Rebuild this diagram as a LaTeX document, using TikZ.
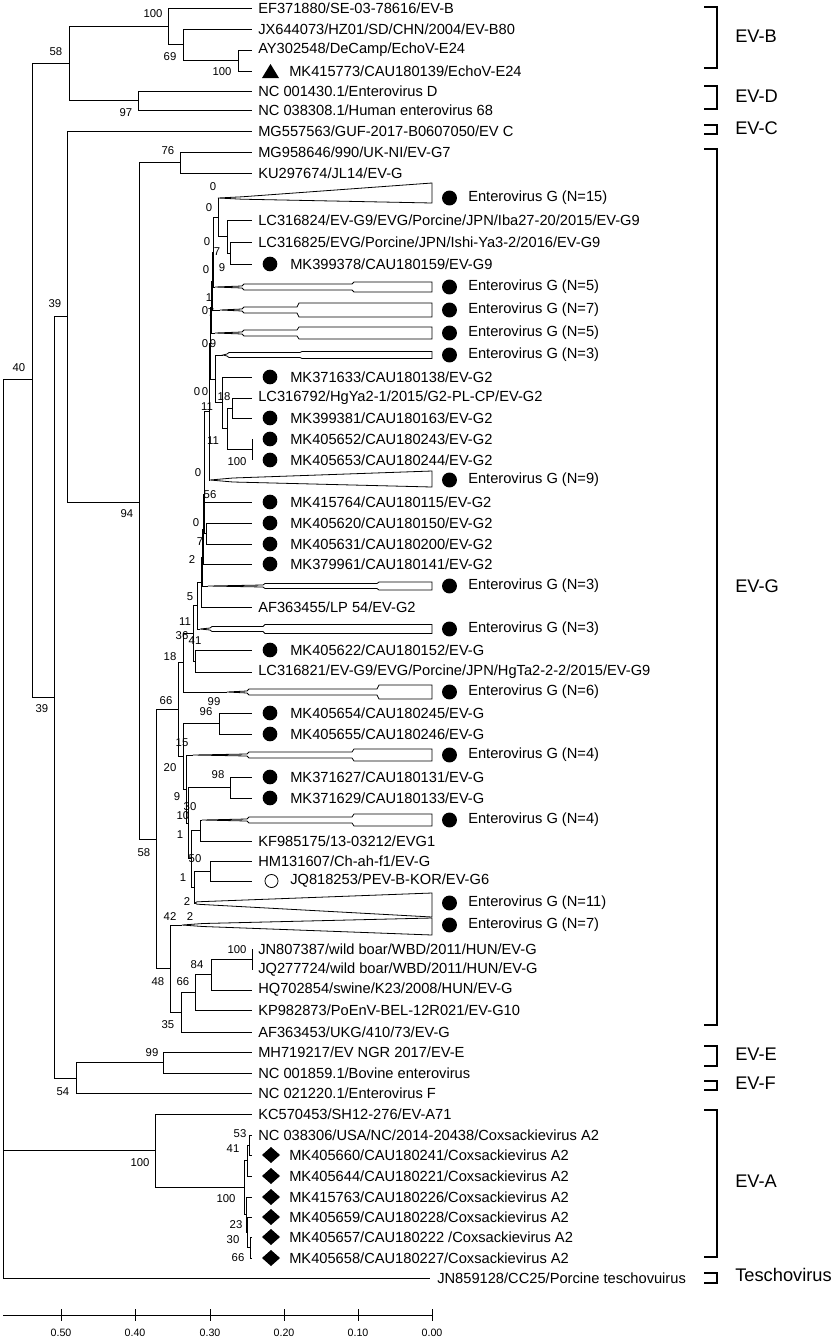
\documentclass[tikz,border=0pt]{standalone}
\usepackage{fontspec}
\setmainfont{Liberation Sans}
\newcounter{bsc}
\newcommand\LfPlain[3]{\coordinate (#1) at (252,#2); \node[leaf] (#1t) at (258,#2) {#3};}
\newcommand\LfDot[3]{\coordinate (#1) at (252,#2); \fill (270,#2) circle[radius=5.5pt]; \node[leaf] (#1t) at (290,#2) {#3};}
\newcommand\LfOpen[3]{\coordinate (#1) at (252,#2); \draw[line width=0.6pt] (271.5,#2) circle[radius=4.9pt]; \node[leaf] (#1t) at (290,#2) {#3};}
\newcommand\LfDia[3]{\coordinate (#1) at (252,#2); \fill (262,#2) -- (271,#2-8) -- (280,#2) -- (271,#2+8) -- cycle; \node[leaf] (#1t) at (289,#2) {#3};}
\newcommand\LfTri[3]{\coordinate (#1) at (252,#2); \fill (262,#2+7) -- (279,#2+7) -- (270.5,#2-7) -- cycle; \node[leaf] (#1t) at (289,#2) {#3};}
\newcommand\CladeStair[8]{%
 \coordinate (#1) at (#3,#2);
 \draw[clade] (#1) -- (#4,#2-1) -- (#4+2,#2-#5) -- (#6,#2-#5) -- (#6+2,#2-#7) -- (432,#2-#7) -- (432,#2+#7) -- (#6+2,#2+#7) -- (#6,#2+#5) -- (#4+2,#2+#5) -- (#4,#2+1) -- cycle;
 \fill (449.5,#2) circle[radius=5.6pt];
 \node[leaf] (#1t) at (468,#2) {Enterovirus G (N=#8)};}
\newcommand\CladeTri[8]{%
 \coordinate (#1) at (#3,#2);
 \draw[clade] (#1) -- (#4,#2-#5) -- (432,#2-#6) -- (432,#2+#7) -- (#4,#2+#5) -- cycle;
 \fill (449.5,#2) circle[radius=5.6pt];
 \node[leaf] (#1t) at (468,#2) {Enterovirus G (N=#8)};}
\newcommand\Bs[3]{\stepcounter{bsc}\node[bs] (bs\arabic{bsc}) at (#1,#2) {#3};}
\newcommand\Brk[4]{\draw[brk] (704,#2) -- (717,#2) -- (717,#3) -- (704,#3); \node[cl] (#1) at (735,#4) {\strut #1};}
\begin{document}
\begin{tikzpicture}[x=0.75pt,y=-0.75pt,
  br/.style={line width=0.75pt},
  clade/.style={line width=0.6pt, line join=miter},
  brk/.style={line width=1.3pt},
  leaf/.style={anchor=west, inner sep=0pt, font=\fontsize{11}{13}\selectfont},
  bs/.style={inner sep=0pt, font=\fontsize{8.5}{10}\selectfont},
  cl/.style={anchor=west, inner sep=0pt, font=\fontsize{13.7}{16}\selectfont},
  ax/.style={inner sep=0pt, font=\fontsize{8}{10}\selectfont}]
\useasboundingbox (0,0) rectangle (835,1339);
\fill[white] (0,0) rectangle (835,1339);

% ---------- leaves ----------
\LfPlain{L1}{8}{EF371880/SE-03-78616/EV-B}
\LfPlain{L2}{29}{JX644073/HZ01/SD/CHN/2004/EV-B80}
\LfPlain{L3}{50}{AY302548/DeCamp/EchoV-E24}
\LfTri{L4}{71}{MK415773/CAU180139/EchoV-E24}
\LfPlain{L5}{91}{NC 001430.1/Enterovirus D}
\LfPlain{L6}{110}{NC 038308.1/Human enterovirus 68}
\LfPlain{L7}{131}{MG557563/GUF-2017-B0607050/EV C}
\LfPlain{L8}{152}{MG958646/990/UK-NI/EV-G7}
\LfPlain{L9}{173}{KU297674/JL14/EV-G}
\CladeTri{T10}{198}{218}{242}{1.2}{15}{5}{15}
\LfPlain{L11}{220}{LC316824/EV-G9/EVG/Porcine/JPN/Iba27-20/2015/EV-G9}
\LfPlain{L12}{242}{LC316825/EVG/Porcine/JPN/Ishi-Ya3-2/2016/EV-G9}
\LfDot{L13}{264}{MK399378/CAU180159/EV-G9}
\CladeStair{T14}{287}{215}{242}{3}{352}{5}{5}
\CladeStair{T15}{310}{220}{242}{3}{297}{7}{7}
\CladeStair{T16}{333}{215}{242}{3}{297}{6}{5}
\CladeStair{T17}{355}{223}{227}{2.5}{300}{3.5}{3}
\LfDot{L18}{377}{MK371633/CAU180138/EV-G2}
\LfPlain{L19}{398}{LC316792/HgYa2-1/2015/G2-PL-CP/EV-G2}
\LfDot{L20}{418}{MK399381/CAU180163/EV-G2}
\LfDot{L21}{439}{MK405652/CAU180243/EV-G2}
\LfDot{L22}{460}{MK405653/CAU180244/EV-G2}
\CladeTri{T23}{480}{210}{233}{2}{9}{7}{9}
\LfDot{L24}{502}{MK415764/CAU180115/EV-G2}
\LfDot{L25}{523}{MK405620/CAU180150/EV-G2}
\LfDot{L26}{544}{MK405631/CAU180200/EV-G2}
\LfDot{L27}{564}{MK379961/CAU180141/EV-G2}
\CladeStair{T28}{586}{208}{263}{2.5}{377}{4}{3}
\LfPlain{L29}{607}{AF363455/LP 54/EV-G2}
\CladeStair{T30}{629}{200}{210}{2.5}{263}{4.5}{3}
\LfDot{L31}{650}{MK405622/CAU180152/EV-G}
\LfPlain{L32}{672}{LC316821/EV-G9/EVG/Porcine/JPN/HgTa2-2-2/2015/EV-G9}
\CladeStair{T33}{692}{227}{247}{3}{377}{7}{6}
\LfDot{L34}{713}{MK405654/CAU180245/EV-G}
\LfDot{L35}{734}{MK405655/CAU180246/EV-G}
\CladeStair{T36}{755}{193}{247}{3}{352}{6}{4}
\LfDot{L37}{777}{MK371627/CAU180131/EV-G}
\LfDot{L38}{798}{MK371629/CAU180133/EV-G}
\CladeStair{T39}{820}{202}{247}{3}{352}{6}{4}
\LfPlain{L40}{841}{KF985175/13-03212/EVG1}
\LfPlain{L41}{861}{HM131607/Ch-ah-f1/EV-G}
\LfOpen{L42}{881}{JQ818253/PEV-B-KOR/EV-G6}
\CladeTri{T43}{903}{195}{197}{1.2}{10}{14}{11}
\CladeTri{T44}{925}{182}{203}{1.5}{7}{10}{7}
\LfPlain{L45}{949}{JN807387/wild boar/WBD/2011/HUN/EV-G}
\LfPlain{L46}{970}{JQ277724/wild boar/WBD/2011/HUN/EV-G}
\LfPlain{L47}{990}{HQ702854/swine/K23/2008/HUN/EV-G}
\LfPlain{L48}{1010}{KP982873/PoEnV-BEL-12R021/EV-G10}
\LfPlain{L49}{1032}{AF363453/UKG/410/73/EV-G}
\LfPlain{L50}{1052}{MH719217/EV NGR 2017/EV-E}
\LfPlain{L51}{1073}{NC 001859.1/Bovine enterovirus}
\LfPlain{L52}{1093}{NC 021220.1/Enterovirus F}
\LfPlain{L53}{1114}{KC570453/SH12-276/EV-A71}
\LfPlain{L54}{1135}{NC 038306/USA/NC/2014-20438/Coxsackievirus A2}
\LfDia{L55}{1155}{MK405660/CAU180241/Coxsackievirus A2}
\LfDia{L56}{1176}{MK405644/CAU180221/Coxsackievirus A2}
\LfDia{L57}{1197}{MK415763/CAU180226/Coxsackievirus A2}
\LfDia{L58}{1217}{MK405659/CAU180228/Coxsackievirus A2}
\LfDia{L59}{1237}{MK405657/CAU180222 /Coxsackievirus A2}
\LfDia{L60}{1258}{MK405658/CAU180227/Coxsackievirus A2}
\coordinate (L61) at (430,1278);
\node[leaf] (L61t) at (437,1278) {JN859128/CC25/Porcine teschovuirus};

% ---------- internal nodes ----------
\coordinate (root) at (3,379.5);
\coordinate (n40) at (32,379.5);
\coordinate (n58t) at (69,63);
\coordinate (B1) at (168,26.4);
\coordinate (B2) at (183,44.75);
\coordinate (B3) at (238,60.5);
\coordinate (Dn) at (138,100.5);
\coordinate (n39l) at (54,697);
\coordinate (n39u) at (67,316);
\coordinate (n94) at (139,502);
\coordinate (n76) at (180,162.5);
\coordinate (n58) at (156,839);
\coordinate (E1) at (178,709.5);
\coordinate (B9) at (183,662.7);
\coordinate (U8) at (193,633.3);
\coordinate (C1) at (195,661);
\coordinate (U7) at (197,605.7);
\coordinate (U6) at (201,582.4);
\coordinate (U5) at (202,557.7);
\coordinate (U4) at (203,529.4);
\coordinate (U3) at (204,494.9);
\coordinate (U2) at (204.5,456.75);
\coordinate (Bg) at (206,533);
\coordinate (A6) at (209,411.5);
\coordinate (A5) at (210,343);
\coordinate (A4) at (211,307);
\coordinate (A3) at (212,281);
\coordinate (A2) at (213,252);
\coordinate (A1) at (218,217.25);
\coordinate (g9) at (227,236.5);
\coordinate (g9b) at (230,253);
\coordinate (g2e) at (215,379);
\coordinate (g2d) at (222,402.9);
\coordinate (g2c) at (227,428.75);
\coordinate (g2a) at (232,408);
\coordinate (g2b) at (252,449.5);
\coordinate (D9) at (183,756.3);
\coordinate (D1) at (219,723.5);
\coordinate (X) at (186,789);
\coordinate (D7) at (188,823.1);
\coordinate (D2) at (230,787.5);
\coordinate (D6) at (191,858.75);
\coordinate (D4) at (200,830.5);
\coordinate (D5) at (194,887);
\coordinate (D3) at (210,871);
\coordinate (n48) at (170,968.6);
\coordinate (n35) at (181,1012.2);
\coordinate (n66b) at (195,992.4);
\coordinate (n84) at (211,974.75);
\coordinate (n100b) at (252,959.5);
\coordinate (nEF) at (76,1078);
\coordinate (nE) at (163,1062.5);
\coordinate (nA) at (155,1150.5);
\coordinate (a7) at (244,1187);
\coordinate (a2) at (247,1160);
\coordinate (a1) at (249,1145);
\coordinate (a6) at (246,1214);
\coordinate (a5) at (247,1232);
\coordinate (a4) at (250,1247.5);

% ---------- branches ----------
\foreach \p/\c in {root/n40, root/nA, root/L61,
  n40/n58t, n40/n39l, n58t/B1, n58t/Dn, B1/L1, B1/B2, B2/L2, B2/B3, B3/L3, B3/L4, Dn/L5, Dn/L6,
  n39l/n39u, n39l/nEF, n39u/L7, n39u/n94, n94/n76, n94/n58, n76/L8, n76/L9,
  n58/E1, n58/n48, E1/B9, E1/D9, B9/U8, B9/T33, U8/U7, U8/C1, C1/L31, C1/L32,
  U7/U6, U7/T30, U6/U5, U6/L29, U5/U4, U5/T28, U4/U3, U4/L27, U3/U2, U3/Bg, Bg/L25, Bg/L26,
  U2/A6, U2/L24, A6/A5, A6/T23, A5/A4, A5/g2e, A4/A3, A4/T16, A3/A2, A3/T15, A2/A1, A2/T14,
  A1/T10, A1/g9, g9/L11, g9/g9b, g9b/L12, g9b/L13,
  g2e/T17, g2e/g2d, g2d/L18, g2d/g2c, g2c/g2a, g2c/g2b, g2a/L19, g2a/L20, g2b/L21, g2b/L22,
  D9/D1, D9/X, D1/L34, D1/L35, X/T36, X/D7, D7/D2, D7/D6, D2/L37, D2/L38,
  D6/D4, D6/D5, D4/T39, D4/L40, D5/D3, D5/T43, D3/L41, D3/L42,
  n48/T44, n48/n35, n35/n66b, n35/L49, n66b/n84, n66b/L48, n84/n100b, n84/L47, n100b/L45, n100b/L46,
  nEF/nE, nEF/L52, nE/L50, nE/L51,
  nA/L53, nA/a7, a7/a2, a7/a6, a2/a1, a2/L56, a1/L54, a1/L55, a6/L57, a6/a5, a5/L58, a5/a4, a4/L59, a4/L60}
  {\draw[br] (\p) |- (\c);}

% ---------- bootstrap values ----------
\Bs{153}{14}{100}\Bs{170}{57}{69}\Bs{222}{72}{100}\Bs{56}{52}{58}\Bs{126}{113}{97}
\Bs{19}{368}{40}\Bs{55}{304}{39}\Bs{42}{709}{39}\Bs{127}{514}{94}\Bs{168}{151}{76}
\Bs{144}{853}{58}\Bs{158}{982}{48}\Bs{183}{982}{66}\Bs{168}{1025}{35}\Bs{197}{965}{84}
\Bs{237}{950}{100}\Bs{170}{917}{42}\Bs{190}{917}{2}\Bs{187}{902}{2}\Bs{183}{878}{1}
\Bs{195}{859}{50}\Bs{180}{835}{1}\Bs{183}{816}{10}\Bs{190}{807}{30}\Bs{177}{797}{9}
\Bs{218}{775}{98}\Bs{170}{768}{20}\Bs{182}{743}{15}\Bs{214}{702}{99}\Bs{206}{712}{96}
\Bs{166}{701}{66}\Bs{170}{657}{18}\Bs{182}{636}{36}\Bs{195}{641}{41}\Bs{185}{622}{11}
\Bs{190}{597}{5}\Bs{192}{560}{2}\Bs{200}{542}{7}\Bs{196}{523}{0}\Bs{210}{495}{56}
\Bs{198}{473}{0}\Bs{237}{462}{100}\Bs{213}{441}{11}\Bs{207}{407}{11}\Bs{197}{392}{0}
\Bs{205}{392}{0}\Bs{224}{397}{18}\Bs{205}{344}{0}\Bs{213}{344}{9}\Bs{205}{311}{0}
\Bs{211}{313}{7}\Bs{209}{298}{1}\Bs{206}{270}{0}\Bs{222}{268}{9}\Bs{217}{252}{7}
\Bs{207}{242}{0}\Bs{209}{208}{0}\Bs{213}{187}{0}
\Bs{140}{1163}{100}\Bs{240}{1134}{53}\Bs{233}{1149}{41}\Bs{226}{1199}{100}
\Bs{236}{1225}{23}\Bs{233}{1240}{30}\Bs{238}{1258}{66}
\Bs{152}{1053}{99}\Bs{63}{1092}{54}

% ---------- clade brackets ----------
\Brk{EV-B}{7}{68}{38}
\Brk{EV-D}{86}{109}{98}
\Brk{EV-C}{125}{134}{130}
\Brk{EV-G}{149}{1025}{588}
\Brk{EV-E}{1046}{1066}{1056}
\Brk{EV-F}{1081}{1090}{1085}
\Brk{EV-A}{1110}{1257}{1183}
\Brk{Teschovirus}{1273}{1283}{1277}

% ---------- scale axis ----------
\coordinate (axL) at (3,1315);
\coordinate (axR) at (432,1315);
\draw[br] (axL) -- (axR);
\foreach \x/\t in {61/0.50,135/0.40,210/0.30,284/0.20,358/0.10,432/0.00}{
  \draw[br] (\x,1309) -- (\x,1321);
  \node[ax] (tick\x) at (\x,1333) {\t};}
\end{tikzpicture}
\end{document}
